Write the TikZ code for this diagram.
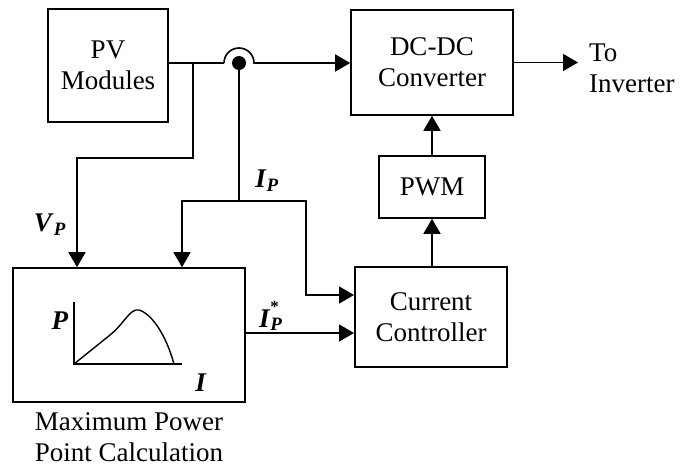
\documentclass[tikz,border=0pt]{standalone}
\usepackage{fontspec}
\setmainfont{Liberation Serif}
\usetikzlibrary{arrows.meta}
\newcommand{\bi}[1]{\textbf{\textit{#1}}}
\begin{document}
\begin{tikzpicture}[x=1pt,y=-1pt,
  every node/.style={font=\fontsize{27}{31}\selectfont},
  box/.style={draw,line width=1.6pt,align=center,inner sep=0pt},
  wire/.style={line width=1.6pt},
  arr/.style={wire,-{Triangle[length=15pt,width=17pt]}},
  lab/.style={inner sep=0pt}]
\useasboundingbox (0,0) rectangle (682,474);
% boxes
\node[box,minimum width=120pt,minimum height=113pt] (pv) at (108,65.5) {PV\\Modules};
\node[box,minimum width=162pt,minimum height=105pt] (dcdc) at (432,62.5) {DC-DC\\Converter};
\node[box,minimum width=106pt,minimum height=62pt] (pwm) at (432,187) {PWM};
\node[box,minimum width=152pt,minimum height=100pt] (cc) at (431,317) {Current\\Controller};
\node[box,minimum width=232pt,minimum height=134pt] (mppt) at (129,335) {};
\node[lab,align=center,anchor=north] (mpptlab) at (129,412) {Maximum Power\\Point Calculation};
% junction coordinates
\coordinate (j1) at (193,63);
\coordinate (hopL) at (224,63);
\coordinate (dot) at (239,63);
\coordinate (vp) at (77,158);
\coordinate (ip) at (239,201);
\coordinate (ipl) at (182,201);
\coordinate (ipr) at (306,201);
\coordinate (cc1) at (354,295);
\coordinate (cc2) at (354,333);
\coordinate (ms) at (245,333);
\coordinate (out) at (578,62.5);
% connectors
\draw[wire] (pv.east |- j1) -- (hopL);
\draw[arr] (hopL) arc[start angle=180,end angle=360,radius=15] -- (dcdc.west |- dot);
\fill (dot) circle[radius=7];
\draw[arr] (j1) |- (vp) -- (vp |- mppt.north);
\draw[wire] (dot) -- (ip);
\draw[arr] (ip) -- (ipl) -- (ipl |- mppt.north);
\draw[arr] (ip) -- (ipr) |- (cc1);
\draw[arr] (ms) -- (cc2);
\draw[arr] (pwm.south |- cc.north) -- (pwm.south);
\draw[arr] (pwm.north) -- (pwm.north |- dcdc.south);
\draw[arr] (dcdc.east) -- (out);
\node[lab,align=left,anchor=west] (toinv) at (589,68) {To\\Inverter};
% labels
\node[lab] (vplab) at (50,225) {\bi{V}\textsubscript{\bi{P}}};
\node[lab] (iplab) at (267,181) {\bi{I}\textsubscript{\bi{P}}};
\node[lab,anchor=base west] (ipslab) at (259,327) {\bi{I}\rlap{\raisebox{0.55em}{\fontsize{17}{17}\selectfont\bfseries *}}\textsubscript{\bi{P}}};
% P-I curve
\coordinate (o) at (74,364);
\draw[wire] (74,302) -- (o) -- (182,364);
\draw[line width=1.4pt] (o) -- (110,335) .. controls (124,324) and (130,308) .. (139,310)
  .. controls (152,314) and (166,335) .. (174,364);
\node[lab] (plab) at (60,321) {\bi{P}};
\node[lab] (ilab) at (201,383) {\bi{I}};
\end{tikzpicture}
\end{document}
